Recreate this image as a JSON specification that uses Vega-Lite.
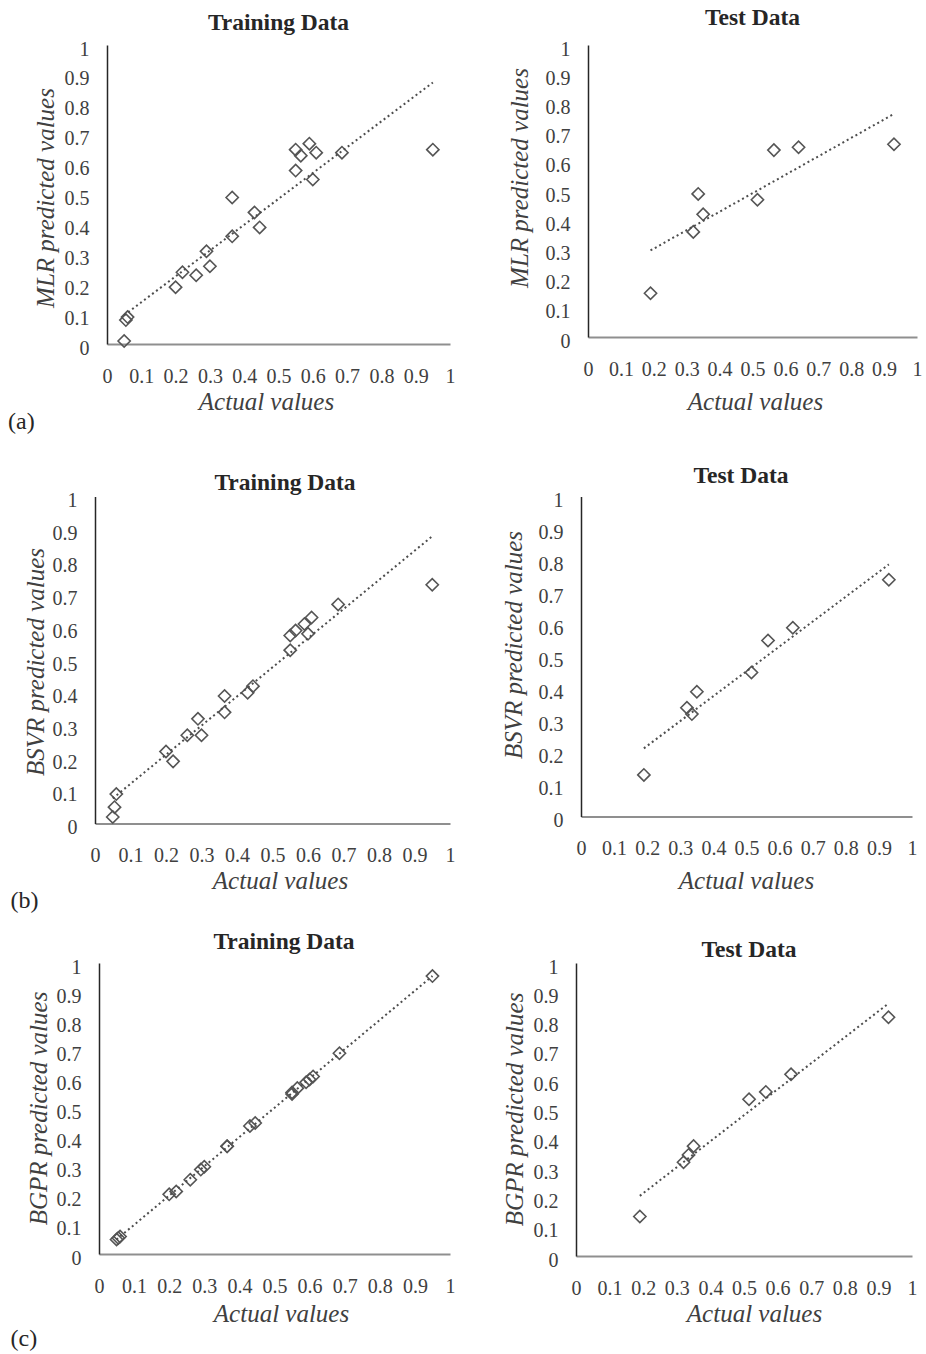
{
  "$schema": "https://vega.github.io/schema/vega-lite/v6.json",
  "background": "white",
  "padding": {"left": 8, "top": 5, "right": 5, "bottom": 5},
  "config": {
    "view": {"stroke": null},
    "font": "Liberation Serif",
    "axis": {"grid": false, "ticks": false, "tickSize": 0, "labelFont": "Liberation Serif", "labelFontSize": 20, "labelColor": "#404040", "labelFlush": false, "labelOverlap": false, "titleFont": "Liberation Serif", "titleFontSize": 25, "titleFontStyle": "italic", "titleFontWeight": "normal", "titleColor": "#404040", "titleBaseline": "alphabetic"},
    "axisX": {"domainColor": "#8f8f8f", "domainWidth": 2, "labelPadding": 32, "labelBaseline": "middle"},
    "axisY": {"domainColor": "#262626", "domainWidth": 1.5, "labelPadding": 18, "labelOffset": 4, "labelBaseline": "middle"},
    "title": {"font": "Liberation Serif", "fontSize": 23.5, "fontWeight": "bold", "color": "#262626", "frame": "group", "anchor": "middle", "baseline": "alphabetic"}
  },
  "datasets": {
    "mlr_train": [
      {"actual": 0.05, "predicted": 0.01}, {"actual": 0.055, "predicted": 0.08}, {"actual": 0.06, "predicted": 0.09},
      {"actual": 0.2, "predicted": 0.19}, {"actual": 0.22, "predicted": 0.24}, {"actual": 0.26, "predicted": 0.23},
      {"actual": 0.29, "predicted": 0.31}, {"actual": 0.3, "predicted": 0.26}, {"actual": 0.365, "predicted": 0.49},
      {"actual": 0.365, "predicted": 0.36}, {"actual": 0.43, "predicted": 0.44}, {"actual": 0.445, "predicted": 0.39},
      {"actual": 0.55, "predicted": 0.58}, {"actual": 0.55, "predicted": 0.65}, {"actual": 0.565, "predicted": 0.63},
      {"actual": 0.59, "predicted": 0.67}, {"actual": 0.61, "predicted": 0.64}, {"actual": 0.6, "predicted": 0.55},
      {"actual": 0.685, "predicted": 0.64}, {"actual": 0.95, "predicted": 0.65}
    ],
    "mlr_test": [
      {"actual": 0.19, "predicted": 0.15}, {"actual": 0.32, "predicted": 0.36}, {"actual": 0.335, "predicted": 0.49},
      {"actual": 0.35, "predicted": 0.42}, {"actual": 0.515, "predicted": 0.47}, {"actual": 0.565, "predicted": 0.64},
      {"actual": 0.64, "predicted": 0.65}, {"actual": 0.93, "predicted": 0.66}
    ],
    "bsvr_train": [
      {"actual": 0.05, "predicted": 0.02}, {"actual": 0.055, "predicted": 0.05}, {"actual": 0.06, "predicted": 0.09},
      {"actual": 0.2, "predicted": 0.22}, {"actual": 0.22, "predicted": 0.19}, {"actual": 0.26, "predicted": 0.27},
      {"actual": 0.29, "predicted": 0.32}, {"actual": 0.3, "predicted": 0.27}, {"actual": 0.365, "predicted": 0.39},
      {"actual": 0.365, "predicted": 0.34}, {"actual": 0.43, "predicted": 0.4}, {"actual": 0.445, "predicted": 0.42},
      {"actual": 0.55, "predicted": 0.53}, {"actual": 0.55, "predicted": 0.575}, {"actual": 0.565, "predicted": 0.59},
      {"actual": 0.59, "predicted": 0.61}, {"actual": 0.61, "predicted": 0.63}, {"actual": 0.6, "predicted": 0.58},
      {"actual": 0.685, "predicted": 0.67}, {"actual": 0.95, "predicted": 0.73}
    ],
    "bsvr_test": [
      {"actual": 0.19, "predicted": 0.13}, {"actual": 0.32, "predicted": 0.34}, {"actual": 0.335, "predicted": 0.32},
      {"actual": 0.35, "predicted": 0.39}, {"actual": 0.515, "predicted": 0.45}, {"actual": 0.565, "predicted": 0.55},
      {"actual": 0.64, "predicted": 0.59}, {"actual": 0.93, "predicted": 0.74}
    ],
    "bgpr_train": [
      {"actual": 0.05, "predicted": 0.05}, {"actual": 0.055, "predicted": 0.055}, {"actual": 0.06, "predicted": 0.06},
      {"actual": 0.2, "predicted": 0.205}, {"actual": 0.22, "predicted": 0.215}, {"actual": 0.26, "predicted": 0.255},
      {"actual": 0.29, "predicted": 0.29}, {"actual": 0.3, "predicted": 0.3}, {"actual": 0.365, "predicted": 0.37},
      {"actual": 0.365, "predicted": 0.37}, {"actual": 0.43, "predicted": 0.44}, {"actual": 0.445, "predicted": 0.45},
      {"actual": 0.55, "predicted": 0.55}, {"actual": 0.55, "predicted": 0.555}, {"actual": 0.565, "predicted": 0.57},
      {"actual": 0.59, "predicted": 0.59}, {"actual": 0.61, "predicted": 0.61}, {"actual": 0.6, "predicted": 0.6},
      {"actual": 0.685, "predicted": 0.69}, {"actual": 0.95, "predicted": 0.955}
    ],
    "bgpr_test": [
      {"actual": 0.19, "predicted": 0.135}, {"actual": 0.32, "predicted": 0.32}, {"actual": 0.335, "predicted": 0.345},
      {"actual": 0.35, "predicted": 0.375}, {"actual": 0.515, "predicted": 0.535}, {"actual": 0.565, "predicted": 0.56},
      {"actual": 0.64, "predicted": 0.62}, {"actual": 0.93, "predicted": 0.815}
    ]
  },
  "bounds": "flush",
  "spacing": 918,
  "vconcat": [
    {
      "bounds": "flush",
      "spacing": 451.5,
      "vconcat": [
        {
          "bounds": "flush",
          "spacing": 0,
          "title": {"text": "(a)", "orient": "bottom", "anchor": "start", "frame": "bounds", "offset": -4, "dx": -25, "fontSize": 24, "fontWeight": "normal", "baseline": "top", "color": "#262626"},
          "hconcat": [
            {"width": 12, "height": 10, "data": {"values": []}, "mark": {"type": "point"}},
            {
              "bounds": "flush",
              "spacing": 138,
              "hconcat": [
                {
                  "width": 343, "height": 299,
                  "data": {"name": "mlr_train"},
                  "title": {"text": "Training Data", "offset": 5, "dx": 0},
                  "encoding": {
                    "x": {"field": "actual", "type": "quantitative", "scale": {"domain": [0, 1], "nice": false, "zero": false}, "axis": {"title": "Actual values", "values": [0, 0.1, 0.2, 0.3, 0.4, 0.5, 0.6, 0.7, 0.8, 0.9, 1], "format": "~g", "titleX": 159, "titleY": 65}},
                    "y": {"field": "predicted", "type": "quantitative", "scale": {"domain": [0, 1], "nice": false, "zero": false}, "axis": {"title": "MLR predicted values", "values": [0, 0.1, 0.2, 0.3, 0.4, 0.5, 0.6, 0.7, 0.8, 0.9, 1], "format": "~g", "titleX": -54, "titleY": 152.5}}
                  },
                  "layer": [
                    {"mark": {"type": "point", "shape": "diamond", "size": 150, "filled": false, "color": "#555555", "strokeWidth": 1.6, "opacity": 1}},
                    {"transform": [{"regression": "predicted", "on": "actual"}], "mark": {"type": "line", "color": "#4d4d4d", "strokeWidth": 2, "strokeDash": [2, 3]}, "encoding": {}}
                  ]
                },
                {
                  "width": 329, "height": 292,
                  "data": {"name": "mlr_test"},
                  "title": {"text": "Test Data", "offset": 10, "dx": 0},
                  "encoding": {
                    "x": {"field": "actual", "type": "quantitative", "scale": {"domain": [0, 1], "nice": false, "zero": false}, "axis": {"title": "Actual values", "values": [0, 0.1, 0.2, 0.3, 0.4, 0.5, 0.6, 0.7, 0.8, 0.9, 1], "format": "~g", "titleX": 167, "titleY": 72}},
                    "y": {"field": "predicted", "type": "quantitative", "scale": {"domain": [0, 1], "nice": false, "zero": false}, "axis": {"title": "MLR predicted values", "values": [0, 0.1, 0.2, 0.3, 0.4, 0.5, 0.6, 0.7, 0.8, 0.9, 1], "format": "~g", "titleX": -60.5, "titleY": 132.5}}
                  },
                  "layer": [
                    {"mark": {"type": "point", "shape": "diamond", "size": 150, "filled": false, "color": "#555555", "strokeWidth": 1.6, "opacity": 1}},
                    {"transform": [{"regression": "predicted", "on": "actual"}], "mark": {"type": "line", "color": "#4d4d4d", "strokeWidth": 2, "strokeDash": [2, 3]}, "encoding": {}}
                  ]
                }
              ]
            }
          ]
        },
        {
          "bounds": "flush",
          "spacing": 131,
          "title": {"text": "(b)", "orient": "bottom", "anchor": "start", "frame": "bounds", "offset": -4, "dx": -13, "fontSize": 24, "fontWeight": "normal", "baseline": "top", "color": "#262626"},
          "hconcat": [
            {
              "width": 355, "height": 327,
              "data": {"name": "bsvr_train"},
              "title": {"text": "Training Data", "offset": -4, "dx": 12.5},
              "encoding": {
                "x": {"field": "actual", "type": "quantitative", "scale": {"domain": [0, 1], "nice": false, "zero": false}, "axis": {"title": "Actual values", "values": [0, 0.1, 0.2, 0.3, 0.4, 0.5, 0.6, 0.7, 0.8, 0.9, 1], "format": "~g", "titleX": 185, "titleY": 64.5}},
                "y": {"field": "predicted", "type": "quantitative", "scale": {"domain": [0, 1], "nice": false, "zero": false}, "axis": {"title": "BSVR predicted values", "values": [0, 0.1, 0.2, 0.3, 0.4, 0.5, 0.6, 0.7, 0.8, 0.9, 1], "format": "~g", "titleX": -51.5, "titleY": 165}}
              },
              "layer": [
                {"mark": {"type": "point", "shape": "diamond", "size": 150, "filled": false, "color": "#555555", "strokeWidth": 1.6, "opacity": 1}},
                {"transform": [{"regression": "predicted", "on": "actual"}], "mark": {"type": "line", "color": "#4d4d4d", "strokeWidth": 2, "strokeDash": [2, 3]}, "encoding": {}}
              ]
            },
            {
              "width": 331, "height": 320,
              "data": {"name": "bsvr_test"},
              "title": {"text": "Test Data", "offset": 3, "dx": -5.5},
              "encoding": {
                "x": {"field": "actual", "type": "quantitative", "scale": {"domain": [0, 1], "nice": false, "zero": false}, "axis": {"title": "Actual values", "values": [0, 0.1, 0.2, 0.3, 0.4, 0.5, 0.6, 0.7, 0.8, 0.9, 1], "format": "~g", "titleX": 165, "titleY": 71.5}},
                "y": {"field": "predicted", "type": "quantitative", "scale": {"domain": [0, 1], "nice": false, "zero": false}, "axis": {"title": "BSVR predicted values", "values": [0, 0.1, 0.2, 0.3, 0.4, 0.5, 0.6, 0.7, 0.8, 0.9, 1], "format": "~g", "titleX": -59.5, "titleY": 148}}
              },
              "layer": [
                {"mark": {"type": "point", "shape": "diamond", "size": 150, "filled": false, "color": "#555555", "strokeWidth": 1.6, "opacity": 1}},
                {"transform": [{"regression": "predicted", "on": "actual"}], "mark": {"type": "line", "color": "#4d4d4d", "strokeWidth": 2, "strokeDash": [2, 3]}, "encoding": {}}
              ]
            }
          ]
        }
      ]
    },
    {
      "bounds": "flush",
      "spacing": 0,
      "title": {"text": "(c)", "orient": "bottom", "anchor": "start", "frame": "bounds", "offset": 0, "dx": -16, "fontSize": 24, "fontWeight": "normal", "baseline": "top", "color": "#262626"},
      "hconcat": [
        {"width": 4, "height": 10, "data": {"values": []}, "mark": {"type": "point"}},
        {
          "bounds": "flush",
          "spacing": 126,
          "hconcat": [
            {
              "width": 351, "height": 291,
              "data": {"name": "bgpr_train"},
              "title": {"text": "Training Data", "offset": 4, "dx": 9.5},
              "encoding": {
                "x": {"field": "actual", "type": "quantitative", "scale": {"domain": [0, 1], "nice": false, "zero": false}, "axis": {"title": "Actual values", "values": [0, 0.1, 0.2, 0.3, 0.4, 0.5, 0.6, 0.7, 0.8, 0.9, 1], "format": "~g", "titleX": 182, "titleY": 67.5}},
                "y": {"field": "predicted", "type": "quantitative", "scale": {"domain": [0, 1], "nice": false, "zero": false}, "axis": {"title": "BGPR predicted values", "values": [0, 0.1, 0.2, 0.3, 0.4, 0.5, 0.6, 0.7, 0.8, 0.9, 1], "format": "~g", "titleX": -52.5, "titleY": 145}}
              },
              "layer": [
                {"mark": {"type": "point", "shape": "diamond", "size": 150, "filled": false, "color": "#555555", "strokeWidth": 1.6, "opacity": 1}},
                {"transform": [{"regression": "predicted", "on": "actual"}], "mark": {"type": "line", "color": "#4d4d4d", "strokeWidth": 2, "strokeDash": [2, 3]}, "encoding": {}}
              ]
            },
            {
              "width": 336, "height": 293,
              "data": {"name": "bgpr_test"},
              "title": {"text": "Test Data", "offset": -4, "dx": 5},
              "encoding": {
                "x": {"field": "actual", "type": "quantitative", "scale": {"domain": [0, 1], "nice": false, "zero": false}, "axis": {"title": "Actual values", "values": [0, 0.1, 0.2, 0.3, 0.4, 0.5, 0.6, 0.7, 0.8, 0.9, 1], "format": "~g", "titleX": 178, "titleY": 65.5}},
                "y": {"field": "predicted", "type": "quantitative", "scale": {"domain": [0, 1], "nice": false, "zero": false}, "axis": {"title": "BGPR predicted values", "values": [0, 0.1, 0.2, 0.3, 0.4, 0.5, 0.6, 0.7, 0.8, 0.9, 1], "format": "~g", "titleX": -53.5, "titleY": 146}}
              },
              "layer": [
                {"mark": {"type": "point", "shape": "diamond", "size": 150, "filled": false, "color": "#555555", "strokeWidth": 1.6, "opacity": 1}},
                {"transform": [{"regression": "predicted", "on": "actual"}], "mark": {"type": "line", "color": "#4d4d4d", "strokeWidth": 2, "strokeDash": [2, 3]}, "encoding": {}}
              ]
            }
          ]
        }
      ]
    }
  ]
}
